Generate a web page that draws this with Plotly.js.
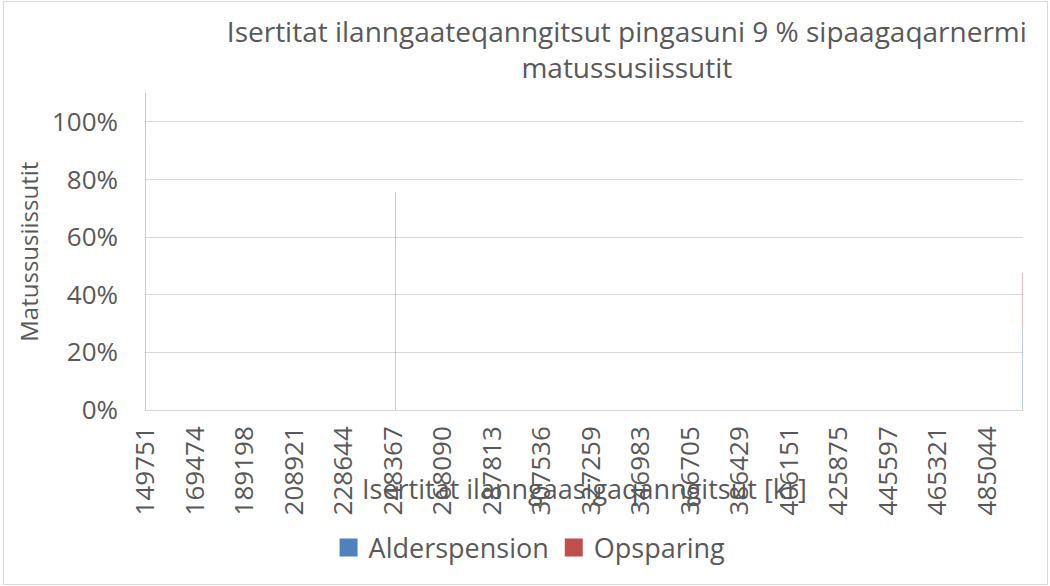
<!DOCTYPE html>
<html>
<head>
<meta charset="utf-8">
<script src="https://cdn.plot.ly/plotly-3.0.1.min.js"></script>
<style>
html,body{margin:0;padding:0;background:#fff;}
#wrap{position:relative;width:1050px;height:586px;}
#chart{width:1050px;height:586px;}
#frame{position:absolute;left:3px;top:1px;width:1043px;height:582px;border:1px solid #d9d9d9;pointer-events:none;}
</style>
</head>
<body>
<div id="wrap"><div id="chart"></div><div id="frame"></div></div>
<script>
// Income (kr) at the visible bars
const incomes = [149751, 249300, 498900];
const alderspension = [0.934, 0.561, 0.282];
const opsparing = [0.166, 0.194, 0.194];
// Category tick labels
const tickValues = [149751,169474,189198,208921,228644,248367,268090,287813,307536,327259,346983,366705,386429,406151,425875,445597,465321,485044];
const tickLabels = tickValues.map(String);
const yTicks = [0,0.2,0.4,0.6,0.8,1.0];

const titleText = 'Isertitat ilanngaateqanngitsut pingasuni 9 % sipaagaqarnermi<br>matussusiissutit';
const xTitle = 'Isertitat ilanngaasigaqanngitsut [kr]';
const yTitle = 'Matussusiissutit';

const font = '"Open Sans", "Noto Sans", sans-serif';
const grey = '#595959';

const traces = [
  {type:'bar', name:'Alderspension', x:incomes, y:alderspension, width:120, cliponaxis:false,
   marker:{color:'#4F81BD', opacity:0.38, line:{width:0}}},
  {type:'bar', name:'Opsparing', x:incomes, y:opsparing, width:120, cliponaxis:false,
   marker:{color:'#C0504D', opacity:0.38, line:{width:0}}}
];

const layout = {
  width:1050, height:586,
  barmode:'stack',
  paper_bgcolor:'#fff', plot_bgcolor:'#fff',
  margin:{l:145, r:27, t:93, b:176},
  font:{family:font, color:grey},
  showlegend:true,
  legend:{orientation:'h', x:0.438, xanchor:'center', y:-0.435, yanchor:'middle',
          font:{size:27, color:grey}, itemwidth:20, traceorder:'normal'},
  title:{text:titleText, x:0.597, xanchor:'center', y:0.929, yanchor:'top',
         font:{size:28, color:grey, family:font}},
  xaxis:{type:'linear', range:[149450, 499150], tickmode:'array',
         tickvals:tickValues, ticktext:tickLabels, tickangle:-90,
         tickfont:{size:26, color:grey}, showgrid:false, zeroline:false,
         showline:false, ticks:'', ticklabelstandoff:10, automargin:false},
  yaxis:{range:[0,1.1], tickmode:'array', tickvals:yTicks,
         ticktext:yTicks.map(v=>Math.round(v*100)+'%'),
         tickfont:{size:26, color:grey}, showgrid:true, gridcolor:'#d9d9d9',
         gridwidth:1, zeroline:true, zerolinecolor:'#d9d9d9', showline:false,
         ticks:'', ticklabelstandoff:26, automargin:false},
  annotations:[
    {text:xTitle, xref:'paper', yref:'paper', x:0.5, y:-0.247, xanchor:'center', yanchor:'middle',
     showarrow:false, font:{size:27, color:grey}},
    {text:yTitle, xref:'paper', yref:'paper', x:-0.133, y:0.5, xanchor:'center', yanchor:'middle',
     textangle:-90, showarrow:false, font:{size:24, color:grey}}
  ]
};

function bigSwatches(){
  document.querySelectorAll('.legendpoints path').forEach(function(p){ p.setAttribute('d','M9,9H-9V-9H9Z'); });
}
Plotly.newPlot('chart', traces, layout, {displayModeBar:false}).then(function(){
  bigSwatches();
});
</script>
</body>
</html>
